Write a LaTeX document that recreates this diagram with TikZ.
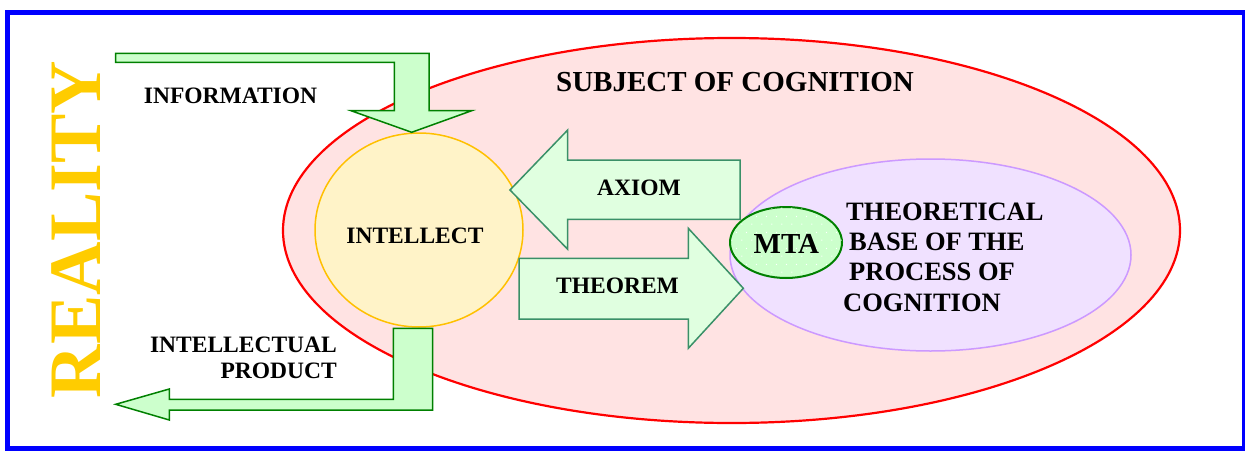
\documentclass[tikz,border=0pt]{standalone}
\usepackage{fontspec}
\setmainfont{Liberation Serif}
\usetikzlibrary{shapes.geometric,patterns.meta}

\definecolor{frameblue}{HTML}{0000FF}
\definecolor{subjred}{HTML}{FF0000}
\definecolor{subjfill}{HTML}{FFE3E3}
\definecolor{intelfill}{HTML}{FFF3C8}
\definecolor{inteldraw}{HTML}{FFC000}
\definecolor{basefill}{HTML}{F0E1FF}
\definecolor{basedraw}{HTML}{CC99FF}
\definecolor{flowfill}{HTML}{CCFFCC}
\definecolor{flowdraw}{HTML}{008000}
\definecolor{logicfill}{HTML}{E0FFE0}
\definecolor{logicdraw}{HTML}{3A9068}
\definecolor{realgold}{HTML}{FFCC00}

\tikzdeclarepattern{
  name=mtadots,
  type=uncolored,
  bounding box={(0pt,0pt) and (10pt,16pt)},
  tile size={(10pt,16pt)},
  code={
    \fill (2pt,2pt) circle (0.7pt);
    \fill (7pt,10pt) circle (0.7pt);
  }
}

\tikzset{
  lbl/.style={font=\fontsize{23.5}{28}\selectfont\bfseries, inner sep=0pt},
  biglbl/.style={font=\fontsize{26.5}{30}\selectfont\bfseries, inner sep=0pt},
  titlelbl/.style={font=\fontsize{29}{34}\selectfont\bfseries, inner sep=0pt},
  frame/.style={draw=frameblue, line width=5pt},
  subject/.style={ellipse, draw=subjred, fill=subjfill, line width=2.2pt,
    inner sep=0pt, outer sep=0pt, minimum width=897pt, minimum height=385pt},
  intellect/.style={ellipse, draw=inteldraw, fill=intelfill, line width=1.5pt,
    inner sep=0pt, outer sep=0pt, minimum width=208pt, minimum height=194pt},
  theorybase/.style={ellipse, draw=basedraw, fill=basefill, line width=1.5pt,
    inner sep=0pt, outer sep=0pt, minimum width=401pt, minimum height=192pt},
  mta/.style={ellipse, draw=flowdraw, fill=flowfill, line width=2pt,
    inner sep=0pt, outer sep=0pt, minimum width=112pt, minimum height=71pt,
    postaction={pattern=mtadots, pattern color=white}},
  flowarrow/.style={draw=flowdraw, fill=flowfill, line width=1.5pt, line join=miter},
  logicarrow/.style={draw=logicdraw, fill=logicfill, line width=1.5pt, line join=miter},
}

\begin{document}
\begin{tikzpicture}[x=1pt,y=-1pt]
\useasboundingbox (0,0) rectangle (1245,450);

% outer frame
\draw[frame] (7.5,12.5) rectangle (1244,448.5);

% vertical title on the left
\node[rotate=90, anchor=base, inner sep=0pt, text=realgold,
      font=\fontsize{74}{80}\selectfont\bfseries] (reality) at (100,229.5) {REALITY};

% subject of cognition and its parts
\node[subject] (subj) at (731.5,230.5) {};
\node[titlelbl, anchor=base] (subjlbl) at (735,91) {SUBJECT OF COGNITION};

\node[intellect] (intel) at (419,230) {};
\node[lbl, anchor=base] (intellbl) at (415,243) {INTELLECT};

\node[theorybase] (tbase) at (930.5,255) {};

% information flowing in from reality
\draw[flowarrow] (115.7,53.3) -- (429,53.3) -- (429,110.7) -- (471.7,110.7)
  -- (411.7,132.3) -- (351,110.7) -- (394.3,110.7) -- (394.3,62.3)
  -- (115.7,62.3) -- cycle;
\node[lbl, anchor=base] (infolbl) at (230.5,103) {INFORMATION};

% intellectual product returned to reality
\draw[flowarrow] (393.3,328.3) -- (432.7,328.3) -- (432.7,410) -- (169.3,410)
  -- (169.3,420) -- (115.7,404.3) -- (169.3,389) -- (169.3,399.3)
  -- (393.3,399.3) -- cycle;
\node[lbl, anchor=base east] (prod1) at (337,352) {INTELLECTUAL};
\node[lbl, anchor=base east] (prod2) at (337,378.5) {PRODUCT};

% axiom: from the theoretical base to the intellect
\draw[logicarrow] (510,190) -- (567.7,130) -- (567.7,160) -- (740,160)
  -- (740,219.3) -- (567.7,219.3) -- (567.7,249.3) -- cycle;
\node[lbl, anchor=base] (axiomlbl) at (639,195) {AXIOM};

% theorem: from the intellect to the theoretical base
\draw[logicarrow] (519,258.3) -- (688.3,258.3) -- (688.3,228.3) -- (743.3,288.3)
  -- (688.3,348.3) -- (688.3,319) -- (519,319) -- cycle;
\node[lbl, anchor=base] (theoremlbl) at (617.5,293) {THEOREM};

% MTA inside the theoretical base
\node[mta] (mtanode) at (786,242.5) {};
\node[anchor=base, inner sep=0pt, font=\fontsize{29}{34}\selectfont\bfseries]
  (mtalbl) at (786.4,253) {MTA};

\node[biglbl, anchor=base west] (tb1) at (846,220) {THEORETICAL};
\node[biglbl, anchor=base west] (tb2) at (849,250) {BASE OF THE};
\node[biglbl, anchor=base west] (tb3) at (849,280) {PROCESS OF};
\node[biglbl, anchor=base west] (tb4) at (843,311) {COGNITION};
\end{tikzpicture}
\end{document}
